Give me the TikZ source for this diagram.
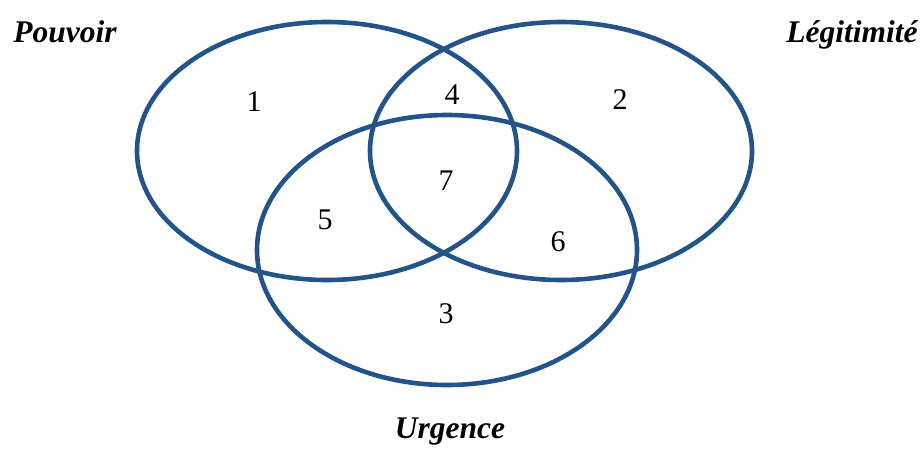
\documentclass[tikz,border=0pt]{standalone}
\usepackage{fontspec}
\setmainfont{Liberation Serif}
\definecolor{vennblue}{RGB}{34,84,138}

\begin{document}
\begin{tikzpicture}[x=1pt, y=-1pt,
	set/.style={draw=vennblue, line width=4.6pt},
	num/.style={anchor=base, inner sep=0pt, font=\fontsize{30}{32}\selectfont},
	title/.style={anchor=base, inner sep=0pt, font=\fontsize{31.5}{34}\selectfont\bfseries\itshape}]
	\useasboundingbox (0,0) rectangle (924,448);

	% the three sets
	\draw[set] (327,151) ellipse [x radius=190, y radius=129];
	\draw[set] (561,151) ellipse [x radius=191, y radius=129];
	\draw[set] (447,250) ellipse [x radius=190, y radius=135];

	% set names
	\node[title] (pouvoir) at (65,42) {Pouvoir};
	\node[title] (legitimite) at (852,42) {Légitimité};
	\node[title] (urgence) at (450,438) {Urgence};

	% regions
	\node[num] (r1) at (254,111) {1};
	\node[num] (r2) at (620,109) {2};
	\node[num] (r3) at (446,323) {3};
	\node[num] (r4) at (452,104) {4};
	\node[num] (r5) at (325,229) {5};
	\node[num] (r6) at (558,251) {6};
	\node[num] (r7) at (446,190) {7};
\end{tikzpicture}
\end{document}
